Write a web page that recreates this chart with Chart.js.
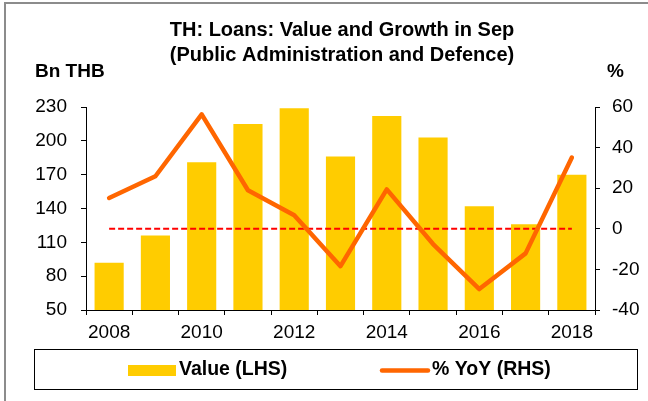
<!DOCTYPE html>
<html>
<head>
<meta charset="utf-8">
<script src="https://cdn.jsdelivr.net/npm/chart.js@4.4.1/dist/chart.umd.min.js"></script>
<style>
  html, body { margin: 0; padding: 0; background: #ffffff; }
  #wrap { width: 648px; height: 401px; position: relative; }
</style>
</head>
<body>
<div id="wrap"><canvas id="chart" width="648" height="401"></canvas></div>
<script>
// Loans to public administration and defence, September of each year
const years = ['2008', '2009', '2010', '2011', '2012', '2013', '2014', '2015', '2016', '2017', '2018'];
const valueBnTHB = [92, 116, 181, 215, 229, 186, 222, 203, 142, 126, 170];
const yoyPct = [15.2, 25.9, 56.4, 19.0, 6.7, -18.4, 19.4, -7.5, -29.7, -12.1, 35.1];
const zeroLine = [0, 0, 0, 0, 0, 0, 0, 0, 0, 0, 0];

const leftTicks = { min: 50, max: 230, step: 30 };
const rightTicks = { min: -40, max: 60, step: 20 };

const titleLines = ['TH: Loans: Value and Growth in Sep', '(Public Administration and Defence)'];
const leftUnit = 'Bn THB';
const rightUnit = '%';
const legendLabels = ['Value (LHS)', '% YoY (RHS)'];

const FONT = '"Liberation Sans", Arial, Helvetica, sans-serif';
const BAR_COLOR = '#FFCC00';
const LINE_COLOR = '#FF6600';

// Frame, title, unit labels and the boxed legend
const decorations = {
  id: 'decorations',
  beforeDraw(chart) {
    const ctx = chart.ctx;
    ctx.save();
    ctx.fillStyle = '#ffffff';
    ctx.fillRect(0, 0, chart.width, chart.height);
    ctx.strokeStyle = '#8c8c8c';
    ctx.lineWidth = 2;
    ctx.beginPath();
    ctx.moveTo(5, chart.height + 2);
    ctx.lineTo(5, 3);
    ctx.lineTo(chart.width + 2, 3);
    ctx.stroke();
    ctx.restore();
  },
  afterDraw(chart) {
    const ctx = chart.ctx;
    ctx.save();
    ctx.fillStyle = '#000000';
    ctx.textBaseline = 'middle';

    ctx.font = 'bold 20px ' + FONT;
    ctx.textAlign = 'center';
    ctx.fillText(titleLines[0], 342, 30);
    ctx.fillText(titleLines[1], 342, 55);

    ctx.font = 'bold 19px ' + FONT;
    ctx.textAlign = 'left';
    ctx.fillText(leftUnit, 35, 72);
    ctx.fillText(rightUnit, 607, 72);

    // legend box
    ctx.strokeStyle = '#000000';
    ctx.lineWidth = 1;
    ctx.strokeRect(34.5, 349.5, 603, 40);

    ctx.fillStyle = BAR_COLOR;
    ctx.fillRect(128, 365, 48, 11);

    ctx.strokeStyle = LINE_COLOR;
    ctx.lineWidth = 4.5;
    ctx.lineCap = 'round';
    ctx.beginPath();
    ctx.moveTo(382, 370.5);
    ctx.lineTo(428, 370.5);
    ctx.stroke();

    ctx.fillStyle = '#000000';
    ctx.font = 'bold 19.5px ' + FONT;
    ctx.fillText(legendLabels[0], 179, 370);
    ctx.fillText(legendLabels[1], 432, 370);
    ctx.restore();
  }
};

const tickFont = { family: FONT, size: 19 };

new Chart(document.getElementById('chart'), {
  type: 'bar',
  data: {
    labels: years,
    datasets: [
      {
        type: 'line',
        label: legendLabels[1],
        data: yoyPct,
        yAxisID: 'y1',
        borderColor: LINE_COLOR,
        borderWidth: 4.5,
        pointRadius: 0,
        tension: 0,
        borderCapStyle: 'round',
        borderJoinStyle: 'round',
        order: 0
      },
      {
        type: 'line',
        label: 'zero',
        data: zeroLine,
        yAxisID: 'y1',
        borderColor: '#FF0000',
        borderWidth: 2,
        borderDash: [6, 3],
        pointRadius: 0,
        order: 1
      },
      {
        type: 'bar',
        label: legendLabels[0],
        data: valueBnTHB,
        yAxisID: 'y',
        backgroundColor: BAR_COLOR,
        borderWidth: 0,
        categoryPercentage: 1.0,
        barPercentage: 0.63,
        order: 2
      }
    ]
  },
  options: {
    responsive: false,
    animation: false,
    devicePixelRatio: 1,
    layout: { padding: { top: 107, left: 0, right: 0, bottom: 0 } },
    plugins: {
      legend: { display: false },
      title: { display: false },
      tooltip: { enabled: false }
    },
    scales: {
      x: {
        offset: true,
        grid: { offset: true, drawOnChartArea: false, drawTicks: true, tickLength: 5, color: '#000000', lineWidth: 1 },
        border: { display: true, color: '#000000', width: 1 },
        ticks: {
          autoSkip: false,
          maxRotation: 0,
          padding: 6,
          color: '#000000',
          font: tickFont,
          callback: function (value, index) { return index % 2 === 0 ? this.getLabelForValue(value) : ''; }
        },
        afterFit: (scale) => { scale.height = 91; }
      },
      y: {
        position: 'left',
        min: leftTicks.min,
        max: leftTicks.max,
        grid: { drawOnChartArea: false, drawTicks: true, tickLength: 5, color: '#000000' },
        border: { display: true, color: '#000000', width: 1 },
        ticks: { stepSize: leftTicks.step, padding: 14, color: '#000000', font: tickFont },
        afterFit: (scale) => { scale.width = 86; }
      },
      y1: {
        position: 'right',
        min: rightTicks.min,
        max: rightTicks.max,
        grid: { drawOnChartArea: false, drawTicks: true, tickLength: 5, color: '#000000' },
        border: { display: true, color: '#000000', width: 1 },
        ticks: { stepSize: rightTicks.step, padding: 12, color: '#000000', font: tickFont },
        afterFit: (scale) => { scale.width = 53; }
      }
    }
  },
  plugins: [decorations]
});
</script>
</body>
</html>
